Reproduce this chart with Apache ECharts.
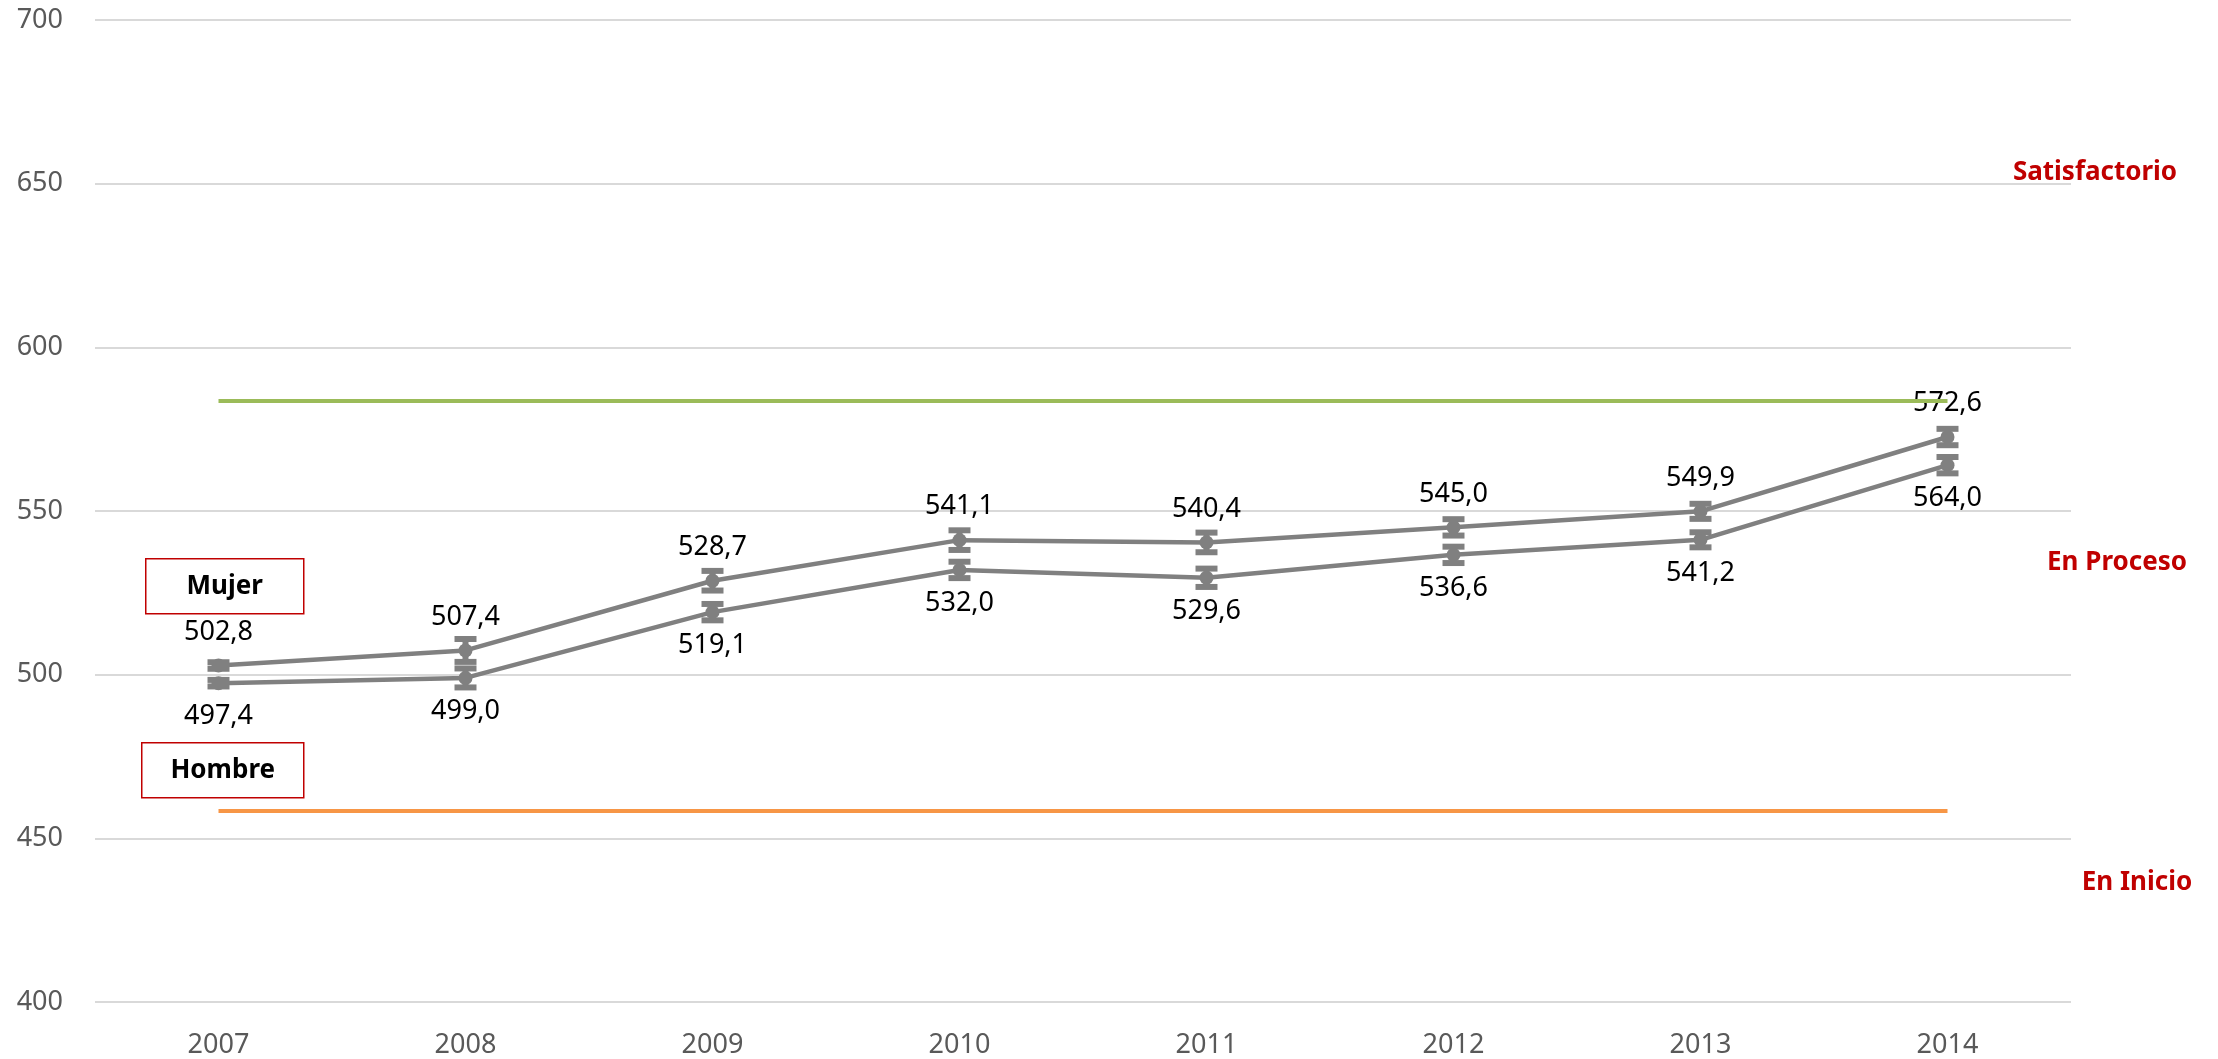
<!DOCTYPE html>
<html>
<head>
<meta charset="utf-8">
<script src="https://cdn.jsdelivr.net/npm/echarts@6/dist/echarts.min.js"></script>
<style>
  html, body { margin: 0; padding: 0; background: #fff; }
  #chart { width: 2218px; height: 1059px; }
</style>
</head>
<body>
<div id="chart"></div>
<script>
// data
const years = ['2007', '2008', '2009', '2010', '2011', '2012', '2013', '2014']
const mujer = [502.8, 507.4, 528.7, 541.1, 540.4, 545.0, 549.9, 572.6]
const hombre = [497.4, 499.0, 519.1, 532.0, 529.6, 536.6, 541.2, 564.0]
// error bar half widths (estimated)
const mujerErr = [1.0, 3.5, 3.0, 3.0, 3.0, 2.5, 2.3, 2.5]
const hombreErr = [1.0, 2.9, 2.5, 2.5, 2.8, 2.5, 2.3, 2.5]
const yTicks = [400, 450, 500, 550, 600, 650, 700]
const limSatisfactorio = 583.6
const limInicio = 458.4

const fmt = v => v.toFixed(1).replace('.', ',')
const fontFam = '"Noto Sans", "Open Sans", sans-serif'
const gray = '#808080'

const chart = echarts.init(document.getElementById('chart'))

function errBars (vals, errs) {
  return vals.map((v, i) => [i, v - errs[i], v + errs[i]])
}

function renderErr (params, api) {
  const x = api.value(0)
  const lo = api.coord([x, api.value(1)])
  const hi = api.coord([x, api.value(2)])
  const w = 11
  const st = { stroke: gray, lineWidth: 6 }
  return {
    type: 'group',
    children: [
      { type: 'line', shape: { x1: lo[0], y1: lo[1], x2: hi[0], y2: hi[1] }, style: { stroke: gray, lineWidth: 6 } },
      { type: 'line', shape: { x1: lo[0] - w, y1: lo[1], x2: lo[0] + w, y2: lo[1] }, style: st },
      { type: 'line', shape: { x1: hi[0] - w, y1: hi[1], x2: hi[0] + w, y2: hi[1] }, style: st }
    ]
  }
}

const lineLabel = (pos) => ({
  show: true,
  position: pos,
  distance: 13,
  color: '#000',
  fontSize: 27,
  fontFamily: fontFam,
  formatter: p => fmt(p.value)
})

const option = {
  animation: false,
  backgroundColor: '#fff',
  grid: { left: 95, right: 147, top: 20, bottom: 56 },
  xAxis: {
    type: 'category',
    data: years,
    boundaryGap: true,
    axisLine: { show: false },
    axisTick: { show: false },
    axisLabel: { color: '#595959', fontSize: 27, fontFamily: fontFam, margin: 30 }
  },
  yAxis: {
    type: 'value',
    min: yTicks[0],
    max: yTicks[yTicks.length - 1],
    interval: 50,
    axisLine: { show: false },
    axisTick: { show: false },
    axisLabel: { color: '#595959', fontSize: 27, fontFamily: fontFam, margin: 32 },
    splitLine: { lineStyle: { color: '#D9D9D9', width: 2 } }
  },
  series: [
    {
      name: 'umbrales',
      type: 'line',
      data: [],
      z: 1,
      markLine: {
        silent: true,
        symbol: 'none',
        label: { show: false },
        data: [
          [{ coord: [years[0], limSatisfactorio], lineStyle: { color: '#9BBB59', width: 4, type: 'solid' } },
           { coord: [years[years.length - 1], limSatisfactorio] }],
          [{ coord: [years[0], limInicio], lineStyle: { color: '#F79646', width: 4, type: 'solid' } },
           { coord: [years[years.length - 1], limInicio] }]
        ]
      }
    },
    {
      name: 'Mujer',
      type: 'line',
      data: mujer,
      z: 3,
      symbol: 'circle',
      symbolSize: 14,
      itemStyle: { color: gray },
      lineStyle: { color: gray, width: 4.5 },
      label: lineLabel('top')
    },
    {
      name: 'Hombre',
      type: 'line',
      data: hombre,
      z: 3,
      symbol: 'circle',
      symbolSize: 14,
      itemStyle: { color: gray },
      lineStyle: { color: gray, width: 4.5 },
      label: lineLabel('bottom')
    },
    {
      type: 'custom',
      z: 4,
      renderItem: renderErr,
      data: errBars(mujer, mujerErr)
    },
    {
      type: 'custom',
      z: 4,
      renderItem: renderErr,
      data: errBars(hombre, hombreErr)
    }
  ],
  graphic: [
    {
      type: 'group', left: 145, top: 558,
      children: [
        { type: 'rect', shape: { x: 0, y: 0, width: 158, height: 55 }, style: { fill: '#fff', stroke: '#C00000', lineWidth: 1.5 } },
        { type: 'text', x: 79, y: 28, style: { text: 'Mujer', fill: '#000', font: 'bold 26px ' + fontFam, textAlign: 'center', textVerticalAlign: 'middle' } }
      ]
    },
    {
      type: 'group', left: 141, top: 742,
      children: [
        { type: 'rect', shape: { x: 0, y: 0, width: 162, height: 55 }, style: { fill: '#fff', stroke: '#C00000', lineWidth: 1.5 } },
        { type: 'text', x: 81, y: 28, style: { text: 'Hombre', fill: '#000', font: 'bold 26px ' + fontFam, textAlign: 'center', textVerticalAlign: 'middle' } }
      ]
    },
    { type: 'text', x: 2095, y: 173, style: { text: 'Satisfactorio', fill: '#C00000', font: 'bold 26px ' + fontFam, textAlign: 'center', textVerticalAlign: 'middle' } },
    { type: 'text', x: 2117, y: 563, style: { text: 'En Proceso', fill: '#C00000', font: 'bold 26px ' + fontFam, textAlign: 'center', textVerticalAlign: 'middle' } },
    { type: 'text', x: 2137, y: 883, style: { text: 'En Inicio', fill: '#C00000', font: 'bold 26px ' + fontFam, textAlign: 'center', textVerticalAlign: 'middle' } }
  ]
}

chart.setOption(option)
</script>
</body>
</html>
